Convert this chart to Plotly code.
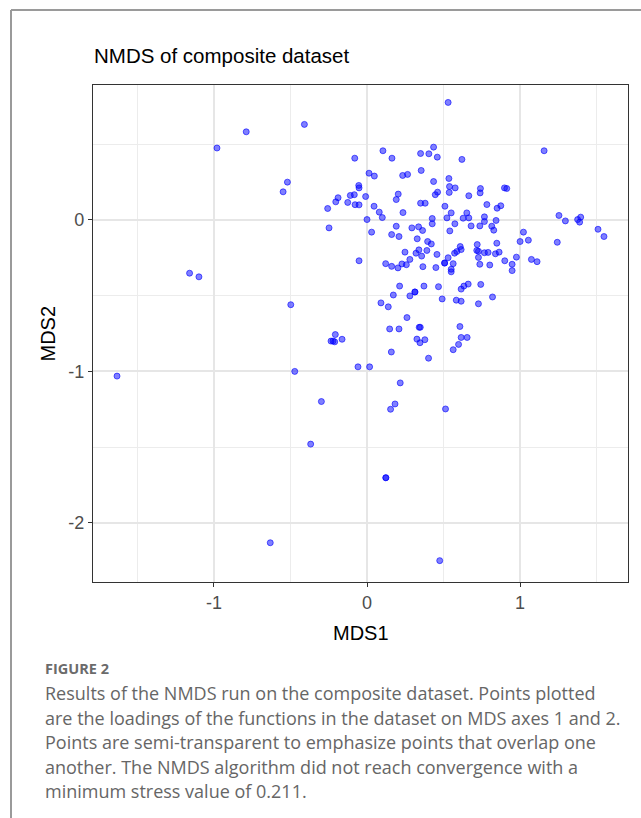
import plotly.graph_objects as go

mds1 = [
    -0.98, -0.789, -0.409, -0.08, -0.52, -0.548, -0.054, -0.052, -0.109, -0.083,
    -0.189, -0.204, -0.126, -0.078, -0.052, -0.257, -0.248,
    0.53, 0.104, 0.163, 0.35, 0.404, 0.435, 0.459, 0.62, 1.157, 0.354,
    0.013, 0.048, 0.233, 0.265, 0.435, 0.535, -0.009, 0.204, 0.191, 0.461,
    0.446, 0.539, 0.576, 0.537, 0.665, 0.741, 0.739, 0.898, 0.913, 0.046,
    0.08, 0.10, 0.0, 0.235, 0.35, 0.38, 0.509, 0.55, 0.522, 0.426,
    0.426, 0.783, 0.85, 0.874, 0.652, 0.628, 0.665, 0.767, 0.767, 0.843,
    0.574, 0.68, 0.737, 0.815, 0.828, 1.254, 1.296, 1.376, 1.396, 1.389,
    1.509, 1.548, 1.022, 1.0, 1.054, 1.243, 0.03, 0.191, 0.293, 0.337,
    0.363, 0.161, 0.209, 0.328, 0.396, 0.42, 0.541, 0.609, 0.615, 0.72,
    0.848,
    -0.052, 0.122, 0.161, 0.202, 0.228, 0.257, 0.248, 0.28, 0.32, 0.339,
    0.357, 0.391, 0.365, 0.457, 0.45, 0.507, 0.507, 0.53, 0.563, 0.55,
    0.55, 0.572, 0.587, 0.717, 0.728, 0.728, 0.737, 0.767, 0.791, 0.839,
    0.863, 0.802, 0.9, 0.948, 0.948, 0.976, 1.074, 1.111, 0.213, 0.172,
    0.091, 0.139, 0.261, 0.28, 0.313, 0.313, 0.372, 0.467, 0.491, 0.583,
    0.615, 0.615, 0.633, 0.661, 0.743, 0.82, 0.728,
    0.148, 0.209, 0.341, 0.348, 0.607, 0.326, 0.378, 0.346, 0.615, 0.654,
    0.598, 0.563, 0.159, 0.402, -0.059, 0.017, 0.217, 0.183, 0.154, 0.513,
    -1.159, -1.098, -0.498, -0.207, -0.163, -0.235, -0.222, -0.211, -1.633, -0.472,
    -0.298,
    -0.368, 0.123, 0.123, -0.632, 0.475,
]
mds2 = [
    0.474, 0.581, 0.63, 0.407, 0.249, 0.185, 0.227, 0.211, 0.161, 0.166,
    0.146, 0.119, 0.115, 0.10, 0.099, 0.075, -0.053,
    0.775, 0.456, 0.407, 0.438, 0.436, 0.48, 0.414, 0.399, 0.456, 0.326,
    0.308, 0.289, 0.293, 0.30, 0.253, 0.273, 0.154, 0.17, 0.134, 0.183,
    0.166, 0.22, 0.211, 0.181, 0.159, 0.207, 0.178, 0.211, 0.207, 0.09,
    0.051, 0.015, 0.002, 0.048, 0.11, 0.11, 0.09, 0.046, 0.013, 0.009,
    -0.026, 0.101, 0.077, 0.093, 0.046, 0.011, 0.013, 0.02, -0.011, -0.004,
    -0.026, -0.04, -0.04, -0.042, -0.068, 0.029, -0.007, 0.002, 0.018, -0.015,
    -0.062, -0.11, -0.081, -0.143, -0.134, -0.148, -0.081, -0.042, -0.053, -0.046,
    -0.07, -0.097, -0.11, -0.125, -0.143, -0.159, -0.073, -0.176, -0.196, -0.163,
    -0.154,
    -0.27, -0.289, -0.307, -0.317, -0.291, -0.296, -0.213, -0.261, -0.22, -0.198,
    -0.239, -0.202, -0.309, -0.228, -0.315, -0.285, -0.285, -0.25, -0.289, -0.326,
    -0.343, -0.22, -0.209, -0.202, -0.207, -0.248, -0.293, -0.217, -0.215, -0.224,
    -0.213, -0.298, -0.27, -0.293, -0.335, -0.246, -0.261, -0.276, -0.437, -0.496,
    -0.548, -0.574, -0.645, -0.502, -0.476, -0.476, -0.437, -0.441, -0.522, -0.53,
    -0.537, -0.457, -0.437, -0.424, -0.426, -0.509, -0.554,
    -0.72, -0.72, -0.709, -0.709, -0.704, -0.787, -0.791, -0.811, -0.776, -0.776,
    -0.822, -0.857, -0.872, -0.913, -0.97, -0.97, -1.076, -1.215, -1.25, -1.248,
    -0.352, -0.376, -0.56, -0.757, -0.788, -0.80, -0.80, -0.805, -1.031, -1.0,
    -1.199,
    -1.48, -1.702, -1.702, -2.131, -2.249,
]

title_text = "NMDS of composite dataset"
x_title = "MDS1"
y_title = "MDS2"
x_ticks = [-1, 0, 1]
y_ticks = [-2, -1, 0]
caption_head = "FIGURE 2"
caption_lines = [
    "Results of the NMDS run on the composite dataset. Points plotted",
    "are the loadings of the functions in the dataset on MDS axes 1 and 2.",
    "Points are semi-transparent to emphasize points that overlap one",
    "another. The NMDS algorithm did not reach convergence with a",
    "minimum stress value of 0.211.",
]

W, H = 641, 818
L, R, T, B = 93, 13, 85, 236
PW, PH = W - L - R, H - T - B


def px(xp):
    return (xp - L) / PW


def py(yp):
    return (H - B - yp) / PH


fig = go.Figure()
fig.add_trace(go.Scatter(
    x=mds1, y=mds2, mode="markers",
    marker=dict(size=6, color="rgba(0,0,255,0.5)",
                line=dict(color="rgba(0,0,255,0.6)", width=1)),
    hoverinfo="x+y", showlegend=False,
))

axis_common = dict(
    showline=True, mirror=True, linecolor="#333333", linewidth=1.4,
    ticks="outside", ticklen=4, tickwidth=1.3, tickcolor="#333333",
    showgrid=True, gridcolor="#e6e6e6", gridwidth=1.7,
    zeroline=False,
    tickfont=dict(family="Liberation Sans, Arial, sans-serif", size=18, color="#4d4d4d"),
    minor=dict(dtick=0.5, showgrid=True, gridcolor="#ececec", gridwidth=0.8, ticks=""),
)

fig.update_layout(
    width=W, height=H,
    margin=dict(l=L, r=R, t=T, b=B),
    paper_bgcolor="white", plot_bgcolor="white",
    xaxis=dict(range=[-1.79, 1.705], tickvals=x_ticks, ticktext=[str(v) for v in x_ticks],
               **axis_common),
    yaxis=dict(range=[-2.39, 0.89], tickvals=y_ticks, ticktext=[str(v) for v in y_ticks],
               **axis_common),
)
fig.update_xaxes(minor=dict(tick0=0.5, dtick=1.0))
fig.update_yaxes(minor=dict(tick0=0.5, dtick=1.0))

ann = []
ann.append(dict(text=title_text, x=px(92), y=py(56), xref="paper", yref="paper",
                xanchor="left", yanchor="middle", showarrow=False,
                font=dict(family="Liberation Sans, Arial, sans-serif", size=20.5, color="black")))
ann.append(dict(text=x_title, x=0.5, y=py(633), xref="paper", yref="paper",
                xanchor="center", yanchor="middle", showarrow=False,
                font=dict(family="Liberation Sans, Arial, sans-serif", size=20, color="black")))
ann.append(dict(text=y_title, x=px(47), y=0.5, xref="paper", yref="paper", textangle=-90,
                xanchor="center", yanchor="middle", showarrow=False,
                font=dict(family="Liberation Sans, Arial, sans-serif", size=20, color="black")))
ann.append(dict(text="<b>" + caption_head + "</b>", x=px(43), y=py(668), xref="paper", yref="paper",
                xanchor="left", yanchor="middle", showarrow=False,
                font=dict(family="Open Sans, Lato, sans-serif", size=14.5, color="#6b6b6b")))
for i, line in enumerate(caption_lines):
    ann.append(dict(text=line, x=px(43), y=py(693 + i * 24.5), xref="paper", yref="paper",
                    xanchor="left", yanchor="middle", showarrow=False,
                    font=dict(family="Open Sans, Lato, sans-serif", size=18, color="#666666")))
fig.update_layout(annotations=ann)

fig.update_layout(shapes=[
    dict(type="line", xref="paper", yref="paper", x0=px(11), x1=px(11), y0=py(10), y1=py(H + 5),
         line=dict(color="#9a9a9a", width=2)),
    dict(type="line", xref="paper", yref="paper", x0=px(11), x1=px(W + 5), y0=py(10), y1=py(10),
         line=dict(color="#9a9a9a", width=2)),
])

fig.write_html("out.html")
